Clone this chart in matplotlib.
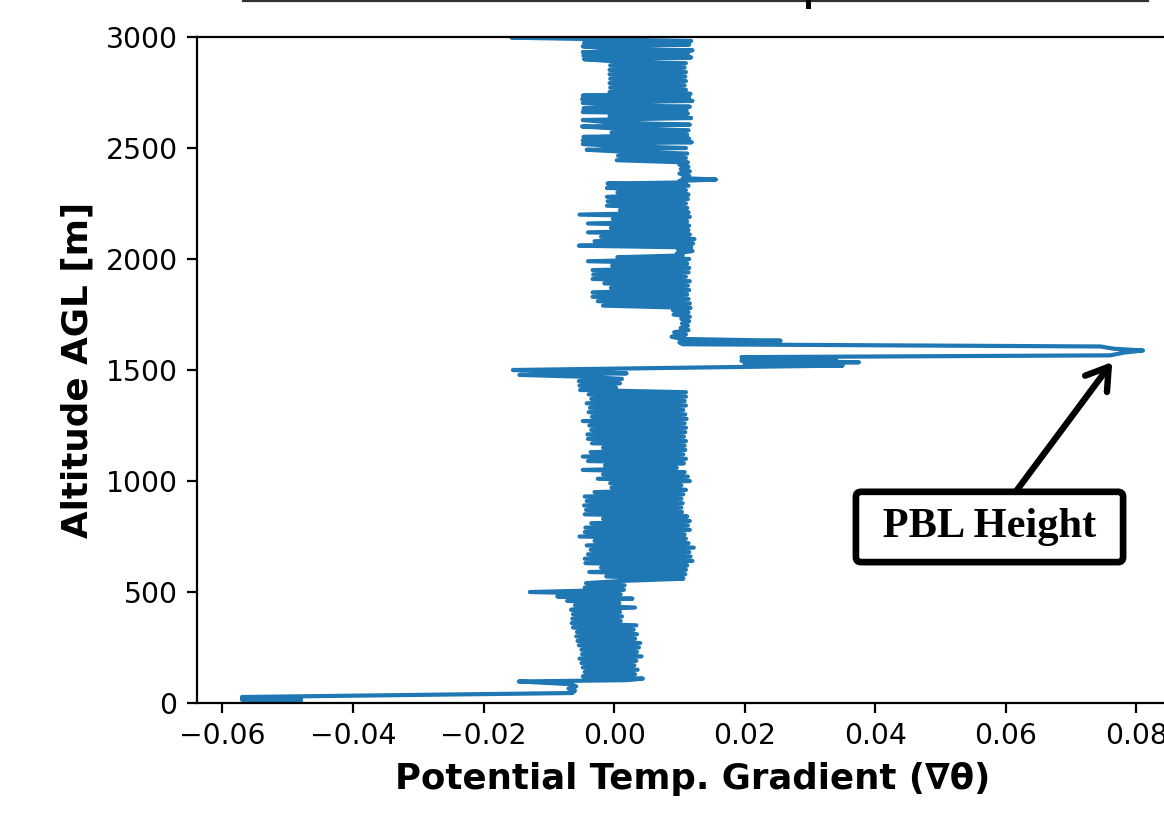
import numpy as np
import matplotlib
matplotlib.use("Agg")
import matplotlib.pyplot as plt
from matplotlib.lines import Line2D

# ---------------- data (gradient values in units of 1e-3) ----------------
alt_surface = [12, 15, 18, 21, 24, 27, 45, 55, 65, 75, 85, 97, 103]
grad_surface = [-48, -57, -49, -57, -52, -57, -6.4, -6.0, -7.0, -5.8, -6.6, -14.6, 2.0]

alt_lower = [110, 120, 130, 140, 150, 160, 170, 180, 190, 200, 210, 220, 230,
             240, 250, 260, 270, 280, 290, 300, 310, 320, 330, 340, 350, 360,
             370, 380, 390, 400, 410, 420, 430, 440, 450, 460, 470, 480, 490,
             500, 510, 520, 530, 540, 550]
grad_lower = [4.4, -4.8, 3.2, -4.5, 3.6, -4.8, 3.1, -5.0, 3.4, -5.3, 4.2, -4.9, 3.5,
              -5.0, 3.8, -5.4, 4.0, -5.6, 3.2, -5.8, 3.5, -5.7, 3.0, -6.3, 3.4, -6.5,
              1.0, -6.4, 1.2, -6.3, 0.9, -6.6, 3.2, -6.0, 0.8, -7.2, 2.8, -8.7, 1.0,
              -12.9, 1.5, -4.5, 1.6, -4.3, 1.2]

alt_mixed = [560, 570, 580, 590, 600, 610, 620, 630, 640, 650, 660, 670, 680,
             690, 700, 710, 720, 730, 740, 750, 760, 770, 780, 790, 800, 810,
             820, 830, 840, 850, 860, 870, 880, 890, 900, 910, 920, 930, 940,
             950, 960, 970, 980, 990, 1000, 1010, 1020, 1030, 1040, 1050, 1060,
             1070, 1080, 1090, 1100, 1110, 1120, 1130, 1140, 1150, 1160, 1170,
             1180, 1190, 1200, 1210, 1220, 1230, 1240, 1250, 1260, 1270, 1280,
             1290, 1300, 1310, 1320, 1330, 1340, 1350, 1360, 1370, 1380, 1390,
             1400]
grad_mixed = [10.6, -1.2, 10.9, -3.8, 11.0, -2.0, 11.2, -4.4, 12.0, -4.5, 11.7, -4.0, 11.5,
              -3.6, 12.2, -4.2, 11.4, -3.0, 11.0, -5.3, 10.8, -4.5, 11.6, -4.4, 11.3, -3.5,
              11.6, -1.7, 11.2, -4.5, 10.4, -4.3, 10.3, -4.6, 10.5, -4.2, 10.3, -4.5, 10.6,
              -3.0, 11.0, -0.4, 10.3, -0.6, 11.6, -2.5, 11.3, -1.7, 10.8, -4.8, 9.6,
              -1.4, 10.7, -4.0, 11.0, -4.8, 10.6, -3.6, 10.9, -1.7, 10.8, -3.4,
              11.0, -4.0, 10.7, -4.1, 10.9, -3.5, 11.0, -3.8, 10.8, -4.8, 11.1,
              -3.4, 10.9, -3.9, 10.6, -3.7, 11.0, -4.2, 10.8, -3.5, 11.0, -3.9,
              11.0]

alt_transition = [1410, 1420, 1430, 1440, 1450, 1460, 1470, 1478, 1485, 1492, 1500]
grad_transition = [-5.2, 0.3, -5.3, 0.9, -5.4, 1.2, -5.0, -14.5, 1.9, -5.2, -15.5]

alt_inversion = [1520, 1528, 1535, 1542, 1550, 1558, 1566, 1578, 1588, 1596, 1606,
                 1616, 1624, 1632, 1640]
grad_inversion = [35.0, 20.0, 37.5, 19.5, 34.0, 19.5, 76.0, 78.0, 81.0, 76.5, 74.5,
                  10.5, 10.0, 25.5, 10.3]

alt_column = [1650, 1660, 1670, 1680, 1690, 1700, 1710, 1720, 1730, 1740, 1750,
              1760, 1770, 1780]
grad_column = [8.8, 11.0, 9.2, 11.4, 10.2, 11.3, 10.4, 11.5, 10.3, 11.6, 9.1,
               11.4, 9.0, 11.7]

alt_free1 = [1790, 1800, 1810, 1820, 1830, 1840, 1850, 1860, 1870, 1880, 1890,
             1900, 1910, 1920, 1930, 1940, 1950, 1960, 1970, 1980, 1990, 2000,
             2008, 2016, 2026, 2036, 2044, 2052, 2060, 2070, 2080, 2090, 2100,
             2110, 2120, 2130, 2140, 2150, 2160, 2170, 2180, 2190, 2200, 2210,
             2220, 2230, 2240, 2250, 2260, 2270, 2280, 2290, 2300, 2310, 2320,
             2330, 2340]
grad_free1 = [-1.7, 11.6, -2.5, 11.4, -3.3, 11.2, -3.3, 11.5, -0.5, 11.3, -1.5,
              11.6, -3.3, 11.0, -3.2, 11.4, -3.3, 11.5, -0.3, 11.2, -4.0, 11.5,
              0.5, 10.5, 9.6, 12.0, 9.8, 11.8, -5.4, 12.1, -3.0, 12.3, -2.0,
              11.6, -4.0, 11.4, -0.5, 11.5, -4.0, 11.2, -0.2, 11.6, -5.3, 11.4,
              0.9, 11.2, -1.1, 11.0, -1.0, 11.3, -1.1, 11.4, 0.5, 11.0, -1.1,
              11.4, -1.0]

alt_neck = [2345, 2352, 2358, 2364, 2375, 2385, 2395, 2405, 2415, 2425, 2435]
grad_neck = [11.0, 10.0, 15.6, 10.5, 11.5, 10.0, 11.6, 10.2, 11.4, 10.0, 11.3]

alt_free2 = [2445, 2455, 2465, 2475, 2485, 2492, 2500, 2510, 2518, 2526, 2534,
             2542, 2550, 2560, 2570, 2580, 2590, 2597, 2605, 2615, 2626, 2635,
             2645, 2655, 2662, 2670, 2678, 2686, 2694, 2703, 2712, 2720, 2728,
             2736, 2744, 2752, 2762, 2772, 2782, 2792, 2802, 2812, 2822, 2832,
             2842, 2852, 2862, 2872, 2882, 2892, 2900, 2908, 2916, 2924, 2932,
             2940, 2948, 2958, 2966, 2974, 2982, 2990, 2997, 3010]
grad_free2 = [0.4, 11.0, 0.6, 11.2, 0.3, -4.2, 11.0, -0.5, -4.8, 11.9, -4.8,
              11.5, -4.7, 11.2, -0.4, 11.4, -1.0, -4.9, 11.6, -0.6, -4.8, 11.8,
              -0.7, 11.3, -4.8, 11.1, -4.7, 11.6, -0.5, -4.8, 12.0, -4.9, 11.5,
              -4.8, 11.7, -0.7, 11.0, -0.6, 10.8, -0.7, 11.0, -0.6, 10.9, -0.7,
              11.0, -0.7, 10.8, -0.6, 11.0, -0.8, -4.6, 11.8, -4.7, 11.3, -4.8,
              12.0, -0.5, -4.8, 11.5, -4.6, 11.8, -2.2, -15.7, 0.0]

altitude = np.concatenate([alt_surface, alt_lower, alt_mixed, alt_transition,
                           alt_inversion, alt_column, alt_free1, alt_neck, alt_free2])
gradient = np.concatenate([grad_surface, grad_lower, grad_mixed, grad_transition,
                           grad_inversion, grad_column, grad_free1, grad_neck,
                           grad_free2]) / 1000.0

pbl_label = "PBL Height"
pbl_point = (0.0763, 1536)
pbl_text_pos = (0.0575, 793)

# ---------------- figure ----------------
fig = plt.figure(figsize=(5.82, 4.075), dpi=200)
ax = fig.add_axes([0.1692, 0.1374, 0.8514, 0.8172])
ax.plot(gradient, altitude, color="#1f77b4", lw=1.5)
ax.set_xlim(-0.0639, 0.0879)
ax.set_ylim(0, 3000)
ax.tick_params(labelsize=10.2)
ax.set_xlabel("Potential Temp. Gradient (\u2207\u03b8)", fontsize=12.8, fontweight="bold")
ax.set_ylabel("Altitude AGL [m]", fontsize=12.9, fontweight="bold")

ax.annotate(" " + pbl_label + " ", xy=pbl_point, xytext=pbl_text_pos,
            textcoords="data", ha="center", va="center",
            fontfamily="Liberation Serif", fontweight="bold", fontsize=15.3,
            bbox=dict(boxstyle="round,pad=0.38,rounding_size=0.12", fc="white",
                      ec="black", lw=2.4),
            arrowprops=dict(arrowstyle="->,head_length=0.5,head_width=0.32",
                            lw=2.3, color="black", shrinkA=0, shrinkB=0))

# remnant of the (cropped) title above the plot
fig.add_artist(Line2D([243 / 1164, 1148 / 1164], [1 - 1.2 / 815, 1 - 1.2 / 815],
                      transform=fig.transFigure, color="#333333", lw=0.8))
fig.add_artist(Line2D([808 / 1164, 808 / 1164], [1, 1 - 6 / 815],
                      transform=fig.transFigure, color="black", lw=1.8))

fig.savefig("out.png", dpi=200)
